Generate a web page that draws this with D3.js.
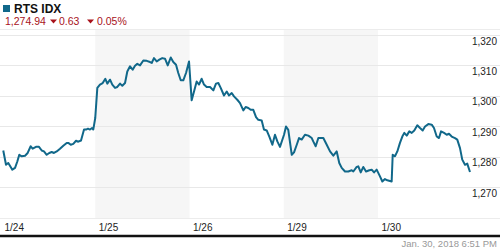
<!DOCTYPE html>
<html>
<head>
<meta charset="utf-8">
<script src="https://cdn.jsdelivr.net/npm/d3@7"></script>
<style>
    body { margin: 0; background: #fff; }
    svg { display: block; font-family: Arial, "Liberation Sans", sans-serif; }
</style>
</head>
<body>
<div id="chart"></div>
<script>
// session labels, one per trading day
const dayLabels = ['1/24', '1/25', '1/26', '1/29', '1/30'];
const shadedDays = [1, 3];
const yTicks = [1270, 1280, 1290, 1300, 1310, 1320];

// position in trading days (0 = open of 1/24) and index level
const times = [
    0.024, 0.053, 0.077, 0.095, 0.12, 0.149, 0.173, 0.194, 0.22, 0.255, 0.283, 0.315, 0.336, 0.371, 0.403,
    0.432, 0.456, 0.485, 0.512, 0.538, 0.562, 0.591, 0.626, 0.661, 0.697, 0.714, 0.74, 0.767, 0.796, 0.82,
    0.849, 0.881, 0.902, 0.923, 0.944, 0.966, 0.979,
    1.0, 1.022, 1.05, 1.079, 1.107, 1.128, 1.157, 1.181, 1.21, 1.234, 1.263, 1.287, 1.316, 1.34, 1.369,
    1.397, 1.422, 1.446, 1.475, 1.51, 1.546, 1.581, 1.599, 1.623, 1.652, 1.68, 1.711, 1.74, 1.769, 1.801,
    1.828, 1.857, 1.881, 1.907, 1.934, 1.963, 1.995,
    2.023, 2.048, 2.076, 2.101, 2.129, 2.154, 2.182, 2.218, 2.253, 2.281, 2.306, 2.331, 2.366, 2.395, 2.419,
    2.448, 2.472, 2.507, 2.536, 2.571, 2.596, 2.624, 2.649, 2.677, 2.706, 2.73, 2.766, 2.79, 2.819, 2.847,
    2.879, 2.907, 2.932, 2.96,
    3.003, 3.024, 3.048, 3.085, 3.109, 3.138, 3.162, 3.19, 3.225, 3.261, 3.297, 3.313, 3.339, 3.367, 3.392,
    3.42, 3.456, 3.491, 3.526, 3.562, 3.589, 3.615, 3.65, 3.685, 3.721, 3.738, 3.774, 3.791, 3.817, 3.844,
    3.873, 3.908, 3.933, 3.958, 3.986,
    4.021, 4.046, 4.074, 4.099, 4.145, 4.156, 4.18, 4.205, 4.233, 4.258, 4.279, 4.305, 4.332, 4.358, 4.385,
    4.417, 4.446, 4.474, 4.499, 4.534, 4.57, 4.594, 4.623, 4.647, 4.669, 4.701, 4.729, 4.753, 4.782, 4.817,
    4.841, 4.87, 4.894, 4.923, 4.947, 4.976
];
const values = [
    1282.0, 1277.3, 1277.9, 1277.0, 1275.7, 1276.3, 1278.4, 1280.6, 1280.1, 1280.3, 1281.2, 1283.4, 1282.6, 1283.2, 1283.2,
    1282.0, 1281.7, 1280.6, 1281.2, 1281.5, 1281.2, 1281.7, 1282.6, 1283.6, 1284.5, 1284.5, 1283.9, 1284.2, 1285.2, 1284.9,
    1285.3, 1288.9, 1288.9, 1289.2, 1288.9, 1289.4, 1288.9,
    1292.7, 1302.6, 1303.7, 1304.2, 1305.6, 1304.0, 1305.3, 1303.7, 1302.6, 1302.9, 1304.0, 1303.3, 1304.2, 1308.0, 1309.7,
    1308.6, 1309.9, 1310.5, 1310.0, 1311.6, 1311.5, 1311.1, 1310.8, 1312.4, 1311.3, 1311.9, 1312.4, 1312.2, 1310.0, 1312.6,
    1311.1, 1310.2, 1307.5, 1305.1, 1305.1, 1307.5, 1311.3,
    1298.5, 1301.4, 1304.7, 1303.7, 1305.6, 1303.7, 1302.9, 1302.9, 1301.8, 1304.0, 1304.2, 1302.6, 1300.1, 1301.4, 1300.1,
    1300.9, 1299.8, 1298.7, 1297.6, 1295.2, 1296.3, 1296.0, 1295.4, 1295.4, 1293.0, 1292.1, 1291.9, 1288.9, 1288.6, 1286.6,
    1283.9, 1287.2, 1285.0, 1283.2,
    1287.2, 1289.9, 1288.8, 1280.6, 1281.4, 1283.9, 1286.1, 1285.6, 1287.2, 1286.9, 1286.1, 1285.0, 1283.4, 1286.1, 1286.1,
    1286.1, 1283.9, 1281.7, 1280.3, 1281.7, 1277.9, 1276.3, 1275.1, 1275.1, 1275.5, 1275.1, 1276.6, 1276.8, 1274.8, 1276.6,
    1275.1, 1275.5, 1275.7, 1274.8, 1275.7,
    1273.5, 1271.8, 1272.6, 1272.2, 1271.8, 1280.6, 1280.1, 1281.7, 1284.5, 1286.6, 1287.8, 1286.9, 1288.3, 1287.8, 1288.6,
    1290.3, 1289.4, 1288.6, 1289.9, 1290.7, 1290.5, 1289.4, 1286.6, 1286.1, 1288.3, 1287.8, 1287.2, 1287.5, 1286.6, 1286.1,
    1285.6, 1282.8, 1279.0, 1277.3, 1277.7, 1274.94
];

const title = 'RTS IDX';
const lastPrice = '1,274.94';
const netChange = '0.63';
const pctChange = '0.05%';
const stamp = 'Jan. 30, 2018 6:51 PM';

const WIDTH = 500, HEIGHT = 250;
const LINE_COLOR = '#11688a';
const DOWN_COLOR = '#a8121b';

const svg = d3.select('#chart')
    .append('svg')
    .attr('width', WIDTH)
    .attr('height', HEIGHT);

const x = d3.scaleLinear().domain([0, dayLabels.length]).range([1, 472.25]);
const y = d3.scaleLinear().domain([1270, 1320]).range([187, 35]);

// shaded sessions
svg.selectAll('rect.band')
    .data(shadedDays)
    .join('rect')
    .attr('class', 'band')
    .attr('x', (d) => x(d))
    .attr('width', (d) => x(d + 1) - x(d))
    .attr('y', 29)
    .attr('height', 218 - 29)
    .attr('fill', '#f6f6f6');

// plot frame lines (top and bottom)
svg.selectAll('line.frame')
    .data([29.5, 218.5])
    .join('line')
    .attr('class', 'frame')
    .attr('x1', 0).attr('x2', WIDTH)
    .attr('y1', (d) => d).attr('y2', (d) => d)
    .attr('stroke', '#ececec');

// y gridlines + labels
const yAxis = svg.append('g')
    .attr('class', 'y-axis')
    .call(d3.axisRight(y).tickValues(yTicks).tickSize(WIDTH).tickFormat(d3.format(',')));
yAxis.select('.domain').remove();
yAxis.selectAll('.tick line').attr('stroke', '#e8e8e8').attr('shape-rendering', 'crispEdges');
yAxis.selectAll('.tick text')
    .attr('x', 497)
    .attr('dy', 9)
    .attr('text-anchor', 'end')
    .attr('fill', '#222')
    .style('font-size', '10px');

// x labels
const xAxis = svg.append('g')
    .attr('class', 'x-axis')
    .attr('transform', 'translate(0,218)')
    .call(d3.axisBottom(x).tickValues(d3.range(dayLabels.length)).tickSize(0).tickFormat((i) => dayLabels[i]));
xAxis.select('.domain').remove();
xAxis.selectAll('.tick text')
    .attr('x', 3)
    .attr('y', 13)
    .attr('dy', 0)
    .attr('text-anchor', 'start')
    .attr('fill', '#222')
    .style('font-size', '10px');

// heavy baseline
svg.append('line')
    .attr('x1', 0).attr('x2', WIDTH)
    .attr('y1', 236).attr('y2', 236)
    .attr('stroke', '#111')
    .attr('stroke-width', 2.5);

// price line
const points = times.map((t, i) => [t, values[i]]);
svg.append('path')
    .datum(points)
    .attr('fill', 'none')
    .attr('stroke', LINE_COLOR)
    .attr('stroke-width', 2)
    .attr('stroke-linejoin', 'round')
    .attr('d', d3.line().x((d) => x(d[0])).y((d) => y(d[1])));

// header
svg.append('rect')
    .attr('x', 3).attr('y', 5)
    .attr('width', 7).attr('height', 7)
    .attr('fill', LINE_COLOR);
svg.append('text')
    .attr('x', 14).attr('y', 13)
    .attr('font-weight', 'bold')
    .style('font-size', '12px')
    .attr('fill', '#111')
    .text(title);

const quote = svg.append('g').attr('fill', DOWN_COLOR).style('font-size', '10.5px');
quote.append('text').attr('x', 5).attr('y', 25).text(lastPrice);
quote.append('path').attr('d', 'M50,19.5 L57,19.5 L53.5,23.5 Z');
quote.append('text').attr('x', 59).attr('y', 25).text(netChange);
quote.append('path').attr('d', 'M87,19.5 L94,19.5 L90.5,23.5 Z');
quote.append('text').attr('x', 97).attr('y', 25).text(pctChange);

// timestamp
svg.append('text')
    .attr('x', 497).attr('y', 247)
    .attr('text-anchor', 'end')
    .attr('fill', '#999')
    .style('font-size', '9.5px')
    .text(stamp);
</script>
</body>
</html>
